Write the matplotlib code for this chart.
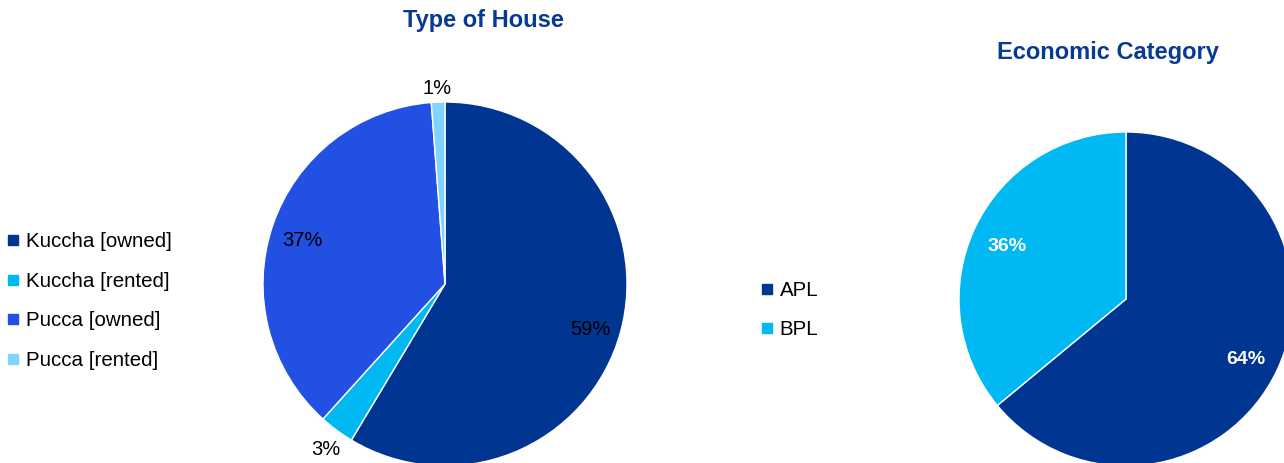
import matplotlib.pyplot as plt
from matplotlib.lines import Line2D
from matplotlib.transforms import offset_copy

plt.rcParams['font.family'] = ['Liberation Sans', 'DejaVu Sans']

# data
house_labels = ["Kuccha [owned]", "Kuccha [rented]", "Pucca [owned]", "Pucca [rented]"]
house_values = [58.6, 3.1, 37.1, 1.2]
house_colors = ["#003591", "#00B9F2", "#2150E3", "#80D4FF"]

econ_labels = ["APL", "BPL"]
econ_values = [64, 36]
econ_colors = ["#003591", "#00B9F2"]

W, H = 1284, 463
fig = plt.figure(figsize=(W / 100, H / 100), dpi=100)
navy = "#083A93"


def pie_axes(cx, cy, r):
    # cx, cy, r in pixels (y from top)
    ax = fig.add_axes([(cx - r) / W, (H - cy - r) / H, 2 * r / W, 2 * r / H])
    ax.axis("off")
    return ax


# left pie
ax1 = pie_axes(445, 284, 182)
wedges1, _, pcts1 = ax1.pie(house_values, colors=house_colors, startangle=90, counterclock=False,
                            autopct=lambda p: "%.0f%%" % p, pctdistance=0.83, radius=1,
                            wedgeprops=dict(edgecolor="white", linewidth=1),
                            textprops=dict(fontsize=14.5, color="black"))
for w, t, v in zip(wedges1, pcts1, house_values):
    w.set_clip_on(False)
    t.set_clip_on(False)
    if v < 5:
        x, y = t.get_position()
        t.set_position((x * 1.1 / 0.83, y * 1.1 / 0.83))
    t.set_transform(offset_copy(ax1.transData, fig=fig, y=-5, units="dots"))
ax1.set_aspect("auto")
ax1.set_xlim(-1, 1)
ax1.set_ylim(-1, 1)

# right pie
ax2 = pie_axes(1126, 299, 167)
wedges2, _, pcts2 = ax2.pie(econ_values, colors=econ_colors, startangle=90, counterclock=False,
                            autopct=lambda p: "%.0f%%" % p, pctdistance=0.79, radius=1,
                            wedgeprops=dict(edgecolor="white", linewidth=1),
                            textprops=dict(fontsize=14, color="white", fontweight="bold"))
for w, t in zip(wedges2, pcts2):
    w.set_clip_on(False)
    t.set_transform(offset_copy(ax2.transData, fig=fig, y=-4, units="dots"))
ax2.set_aspect("auto")
ax2.set_xlim(-1, 1)
ax2.set_ylim(-1, 1)

# titles
fig.text(483 / W, 1 - 21 / H, "Type of House", ha="center", va="center",
         fontsize=17, fontweight="bold", color=navy)
fig.text(1108 / W, 1 - 53 / H, "Economic Category", ha="center", va="center",
         fontsize=17, fontweight="bold", color=navy)


def square_handles(colors):
    return [Line2D([], [], marker="s", linestyle="none", markersize=7,
                   markerfacecolor=c, markeredgecolor=c) for c in colors]


leg1 = fig.legend(square_handles(house_colors), house_labels, loc="center left",
                  bbox_to_anchor=(3 / W, 1 - 301 / H), frameon=False, fontsize=14.8,
                  handlelength=0.4, handletextpad=0.4, labelspacing=1.0,
                  borderaxespad=0, borderpad=0.3)
leg2 = fig.legend(square_handles(econ_colors), econ_labels, loc="center left",
                  bbox_to_anchor=(757 / W, 1 - 310 / H), frameon=False, fontsize=14.8,
                  handlelength=0.4, handletextpad=0.4, labelspacing=1.0,
                  borderaxespad=0, borderpad=0.3)

fig.savefig("out.png", dpi=100)
